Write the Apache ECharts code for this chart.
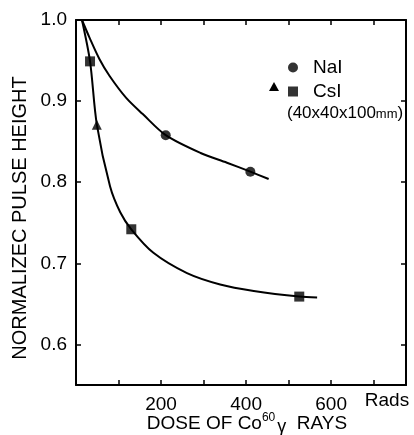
<!DOCTYPE html>
<html>
<head>
<meta charset="utf-8">
<script src="https://cdn.jsdelivr.net/npm/echarts@6/dist/echarts.min.js"></script>
<style>
html,body{margin:0;padding:0;background:#fff;}
#c{width:414px;height:435px;}
</style>
</head>
<body>
<div id="c"></div>
<script>
// ---- data ----
const xTicks = [100, 200, 300, 400, 500, 600, 700];
const xTickLabels = [200, 400, 600];
const yTicks = [0.6, 0.7, 0.8, 0.9, 1.0];
const yRightTicks = [0.6, 0.7, 0.8, 0.9];

const naiDose = [211, 410];
const naiValue = [0.858, 0.813];

const csiSquareDose = [33, 130, 525];
const csiSquareValue = [0.949, 0.742, 0.659];

const csiTriangleDose = [49];
const csiTriangleValue = [0.871];

const naiCurveDose = [14, 32, 55, 79, 118, 157, 211, 293, 355, 410, 453];
const naiCurveValue = [1.0, 0.978, 0.952, 0.931, 0.904, 0.884, 0.858, 0.836, 0.824, 0.813, 0.804];

const csiCurveDose = [14, 33, 49, 80, 104, 130, 182, 261, 339, 418, 525, 567];
const csiCurveValue = [1.0, 0.949, 0.871, 0.795, 0.763, 0.742, 0.713, 0.688, 0.674, 0.666, 0.659, 0.658];

const zip = (a, b) => a.map((v, i) => [v, b[i]]);

const FONT = "'Liberation Sans', 'DejaVu Sans', sans-serif";
const chart = echarts.init(document.getElementById('c'), null, { width: 414, height: 435 });

const axisLineStyle = { color: '#000', width: 2 };

chart.setOption({
  animation: false,
  backgroundColor: '#fff',
  grid: { left: 76, right: 8, top: 20, bottom: 50, containLabel: false, outerBoundsMode: 'none' },
  xAxis: [
    {
      type: 'value', min: 0, max: 776, position: 'bottom',
      axisLine: { show: true, onZero: false, lineStyle: axisLineStyle },
      axisTick: { show: true, inside: true, length: 5, customValues: xTicks, lineStyle: { color: '#000', width: 1.5 } },
      axisLabel: { customValues: xTickLabels, color: '#000', fontSize: 19, fontFamily: FONT, margin: 10 },
      splitLine: { show: false },
      name: 'DOSE OF Co{sup|60}{g|γ}  RAYS',
      nameLocation: 'middle', nameGap: 27, nameMoveOverlap: false,
      nameTextStyle: {
        color: '#000', fontSize: 19, fontFamily: FONT, padding: [0, 0, 0, 12], lineHeight: 24,
        rich: {
          sup: { fontSize: 12, fontFamily: FONT, color: '#000', verticalAlign: 'top', lineHeight: 24 },
          g: { fontSize: 18, fontFamily: FONT, color: '#000', verticalAlign: 'bottom', lineHeight: 24, padding: [0, 0, 0, 2] }
        }
      }
    },
    {
      type: 'value', min: 0, max: 776, position: 'top',
      axisLine: { show: true, onZero: false, lineStyle: axisLineStyle },
      axisTick: { show: true, inside: true, length: 5, customValues: xTicks, lineStyle: { color: '#000', width: 1.5 } },
      axisLabel: { show: false },
      splitLine: { show: false }
    }
  ],
  yAxis: [
    {
      type: 'value', min: 0.55, max: 1.0, position: 'left',
      axisLine: { show: true, onZero: false, lineStyle: axisLineStyle },
      axisTick: { show: true, inside: true, length: 5, customValues: yTicks, lineStyle: { color: '#000', width: 1.5 } },
      axisLabel: { customValues: yTicks, color: '#000', fontSize: 19, fontFamily: FONT, margin: 9,
                   formatter: v => v.toFixed(1) },
      splitLine: { show: false }
    },
    {
      type: 'value', min: 0.55, max: 1.0, position: 'right',
      axisLine: { show: true, onZero: false, lineStyle: axisLineStyle },
      axisTick: { show: true, inside: true, length: 5, customValues: yRightTicks, lineStyle: { color: '#000', width: 1.5 } },
      axisLabel: { show: false },
      splitLine: { show: false }
    }
  ],
  legend: {
    orient: 'vertical', left: 283, top: 53, itemGap: 5,
    itemWidth: 10, itemHeight: 10,
    data: [{ name: 'NaI', icon: 'circle' }, { name: 'CsI', icon: 'rect' }],
    textStyle: { color: '#000', fontSize: 19, fontFamily: FONT, padding: [0, 0, 0, 10] },
    selectedMode: false
  },
  graphic: [
    {
      type: 'text', x: 20, y: 218, rotation: Math.PI / 2,
      style: { text: 'NORMALIZEC PULSE HEIGHT', fill: '#000', font: '20px ' + FONT, align: 'center', verticalAlign: 'middle' }
    },
    {
      type: 'text', x: 387, y: 401,
      style: { text: 'Rads', fill: '#000', font: '19px ' + FONT, align: 'center', verticalAlign: 'middle' }
    },
    {
      type: 'polygon',
      shape: { points: [[274, 82], [269, 91], [279, 91]] },
      style: { fill: '#000' }
    },
    {
      type: 'text', x: 287, y: 113,
      style: {
        text: '(40x40x100{m|mm})', fill: '#000', font: '17px ' + FONT, align: 'left', verticalAlign: 'middle',
        rich: { m: { fontSize: 13, fontFamily: FONT, fill: '#000', padding: [3, 0, 0, 0] } }
      }
    }
  ],
  series: [
    {
      name: 'NaI curve', type: 'line', smooth: 0.3,
      data: zip(naiCurveDose, naiCurveValue), showSymbol: false, symbol: 'none',
      lineStyle: { color: '#000', width: 2 }, z: 2
    },
    {
      name: 'CsI curve', type: 'line', smooth: 0.3,
      data: zip(csiCurveDose, csiCurveValue), showSymbol: false, symbol: 'none',
      lineStyle: { color: '#000', width: 2 }, z: 2
    },
    {
      name: 'NaI', type: 'scatter', symbol: 'circle', symbolSize: 10,
      data: zip(naiDose, naiValue), itemStyle: { color: '#000' }, z: 3
    },
    {
      name: 'CsI', type: 'scatter', symbol: 'rect', symbolSize: 10,
      data: zip(csiSquareDose, csiSquareValue), itemStyle: { color: '#000' }, z: 3
    },
    {
      name: 'CsI (triangle)', type: 'scatter', symbol: 'triangle', symbolSize: 10,
      data: zip(csiTriangleDose, csiTriangleValue), itemStyle: { color: '#000' }, z: 3
    }
  ]
});
</script>
</body>
</html>
